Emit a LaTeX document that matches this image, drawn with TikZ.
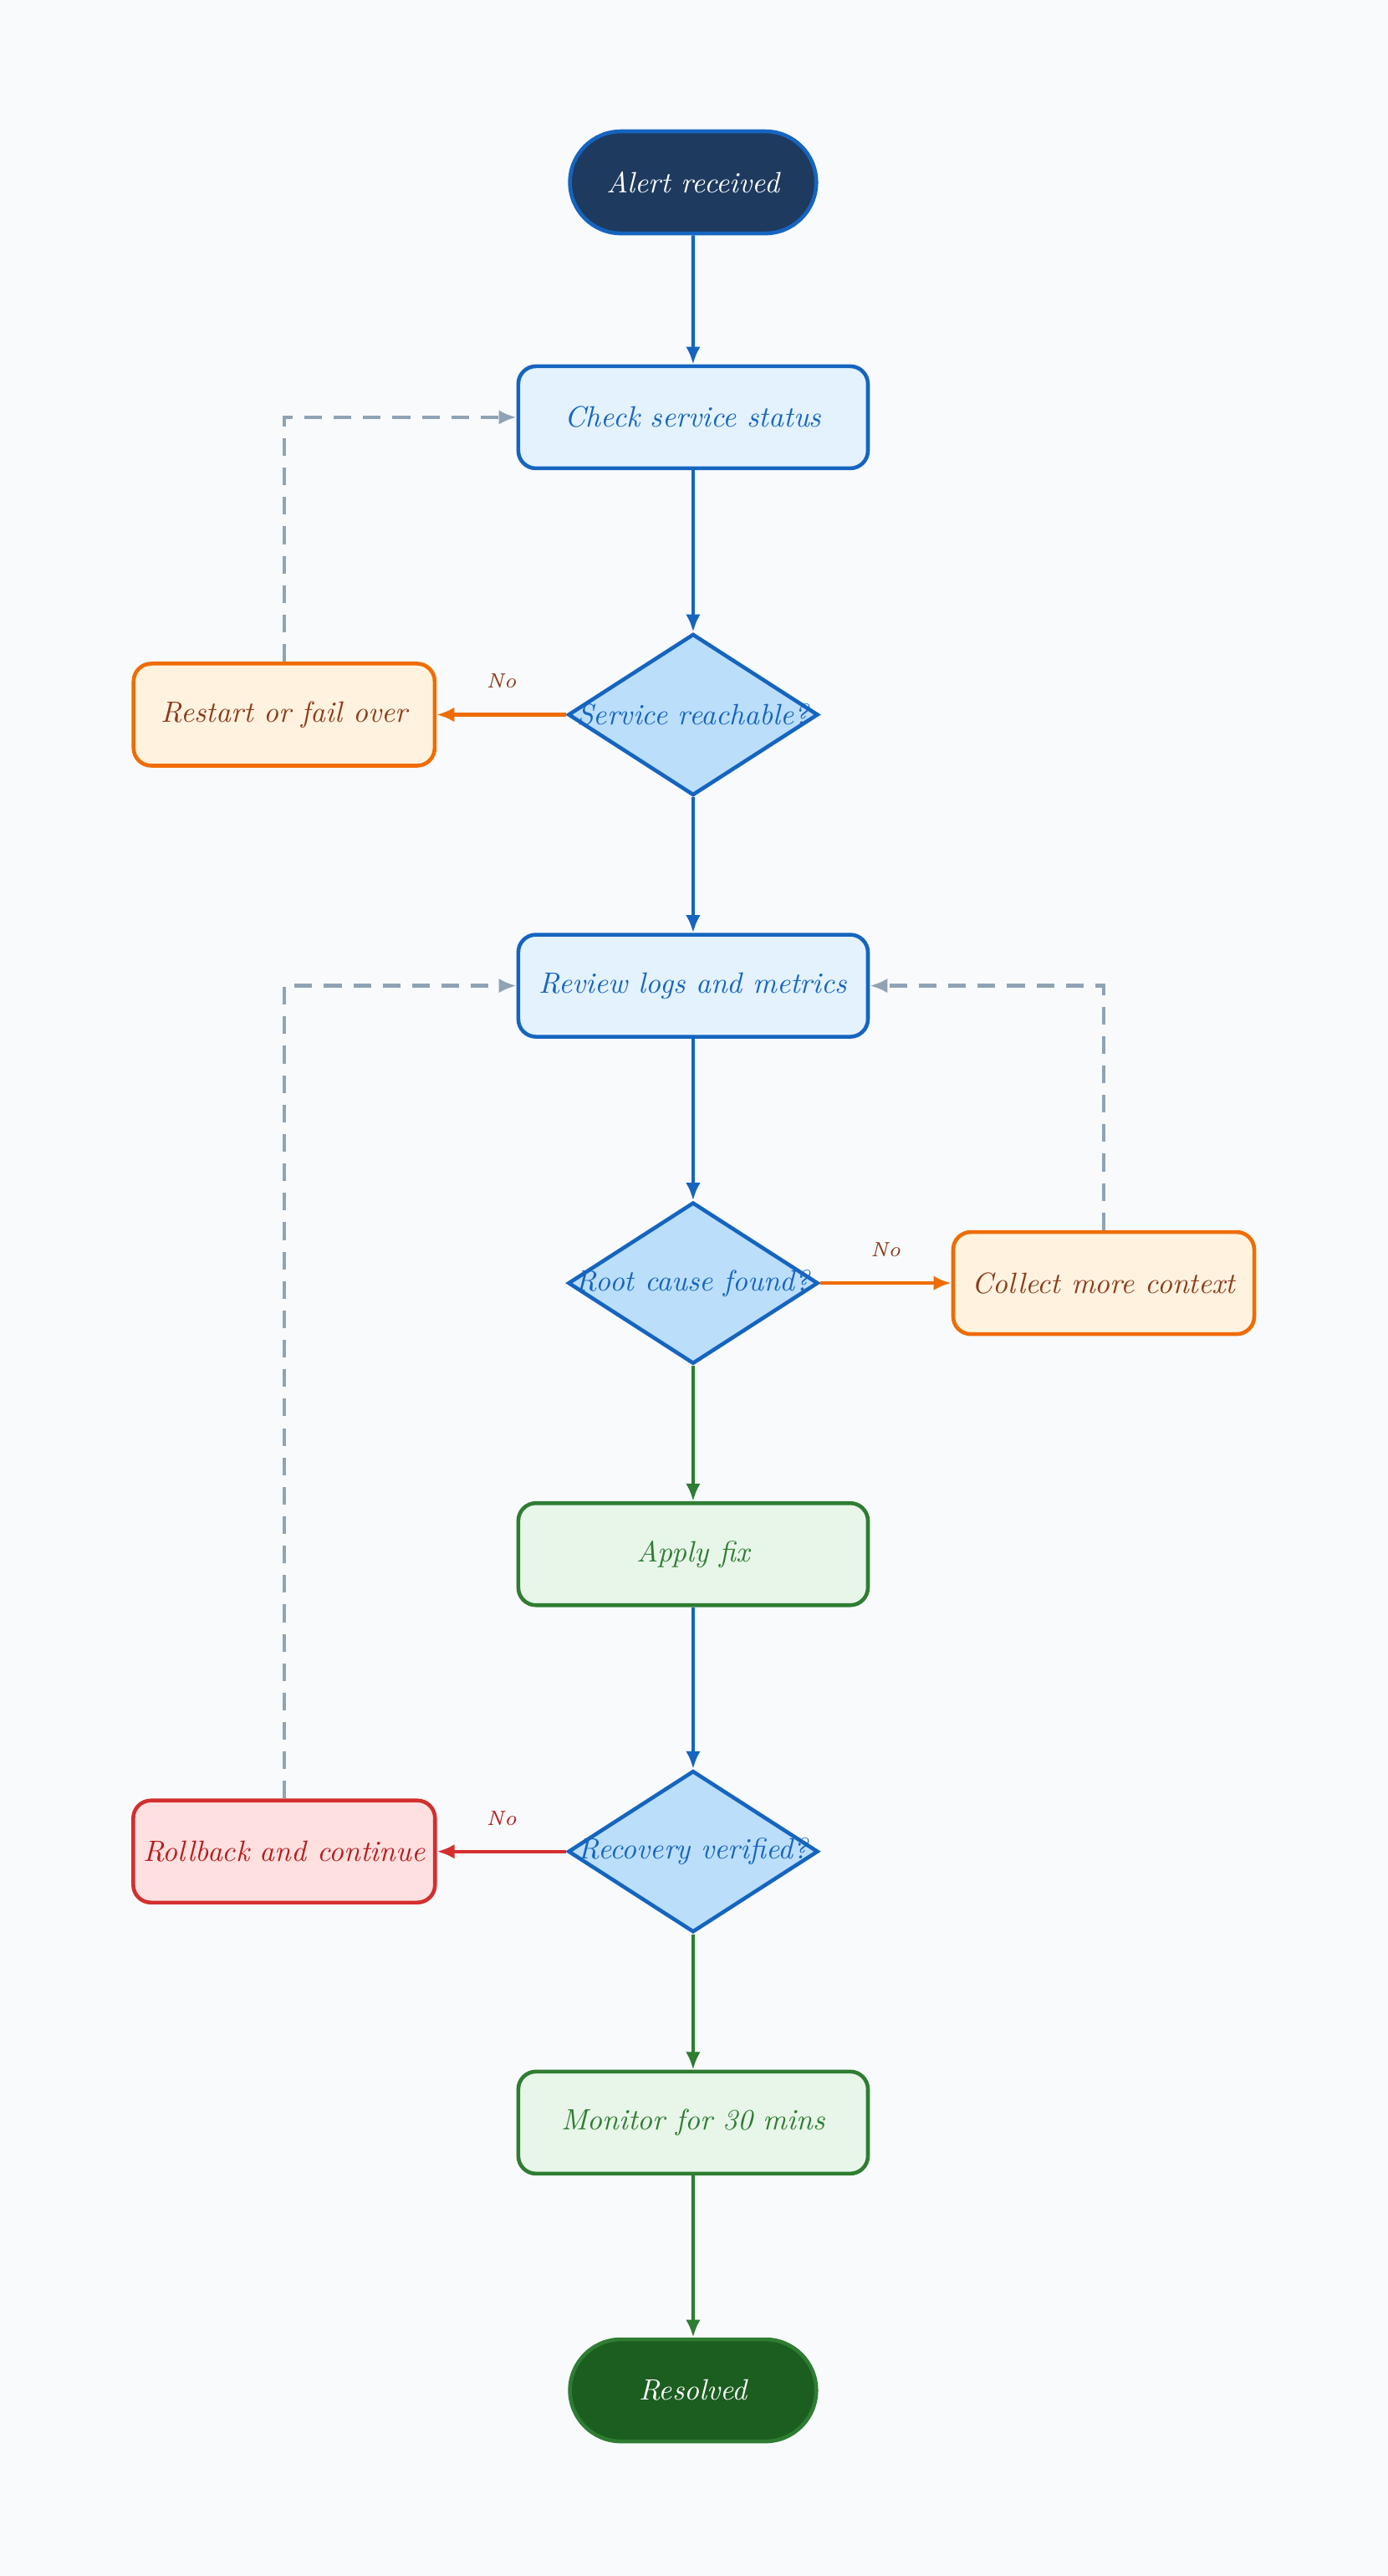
\documentclass[tikz,border=0pt]{standalone}
\usetikzlibrary{shapes.geometric,arrows.meta}
\definecolor{bg}{HTML}{F8FAFC}
\definecolor{blu}{HTML}{1565C0}
\definecolor{lblu}{HTML}{E3F2FD}
\definecolor{dblu}{HTML}{BBDEFB}
\definecolor{navy}{HTML}{1E3A5F}
\definecolor{grn}{HTML}{2E7D32}
\definecolor{lgrn}{HTML}{E8F5E9}
\definecolor{dgrn}{HTML}{1B5E20}
\definecolor{org}{HTML}{EF6C00}
\definecolor{lorg}{HTML}{FFF3E0}
\definecolor{brn}{HTML}{8D3B1A}
\definecolor{rd}{HTML}{D32F2F}
\definecolor{lrd}{HTML}{FFE0E0}
\definecolor{drd}{HTML}{B71C1C}
\definecolor{gry}{HTML}{8FA3B5}
\begin{document}
\begin{tikzpicture}[x=0.019645cm,y=-0.019645cm,
  every node/.style={font=\itshape\fontsize{10}{12}\selectfont},
  stad/.style={rounded rectangle, draw=blu, line width=1.3pt, minimum width=3.18cm, minimum height=1.22cm, text=white},
  box/.style={rectangle, rounded corners=6pt, line width=1.3pt, minimum width=4.18cm, minimum height=1.22cm},
  sbox/.style={box, minimum width=3.6cm},
  bluebox/.style={box, draw=blu, fill=lblu, text=blu},
  grnbox/.style={box, draw=grn, fill=lgrn, text=grn},
  dia/.style={diamond, draw=blu, fill=dblu, line width=1.3pt, inner sep=0pt, minimum width=2.99cm, minimum height=1.93cm},
  dtxt/.style={text=blu},
  ar/.style={-{Latex[length=6pt,width=5pt]}, line width=1.2pt},
  da/.style={ar, draw=gry, dash pattern=on 6pt off 4pt},
  no/.style={font=\itshape\fontsize{7}{8}\selectfont, text=brn}]
\usetikzlibrary{shapes.misc}
\fill[bg] (0,0) rectangle (845,1568);
\useasboundingbox (0,0) rectangle (845,1568);
\node[stad, fill=navy] (alert) at (422,111) {Alert received};
\node[bluebox] (check) at (422,254) {Check service status};
\node[dia] (d1) at (422,435) {};
\node[dtxt] at (d1) {Service reachable?};
\node[sbox, draw=org, fill=lorg, text=brn] (restart) at (173,435) {Restart or fail over};
\node[bluebox] (review) at (422,600) {Review logs and metrics};
\node[dia] (d2) at (422,781) {};
\node[dtxt] at (d2) {Root cause found?};
\node[sbox, draw=org, fill=lorg, text=brn] (collect) at (672,781) {Collect more context};
\node[grnbox] (fix) at (422,946) {Apply fix};
\node[dia] (d3) at (422,1127) {};
\node[dtxt] at (d3) {Recovery verified?};
\node[sbox, draw=rd, fill=lrd, text=drd] (roll) at (173,1127) {Rollback and continue};
\node[grnbox] (mon) at (422,1292) {Monitor for 30 mins};
\node[stad, draw=grn, fill=dgrn] (res) at (422,1455) {Resolved};

\draw[ar, blu] (alert) -- (check);
\draw[ar, blu] (check) -- (d1);
\draw[ar, blu] (d1) -- (review);
\draw[ar, blu] (review) -- (d2);
\draw[ar, blu] (fix) -- (d3);
\draw[ar, grn] (d2) -- (fix);
\draw[ar, grn] (d3) -- (mon);
\draw[ar, grn] (mon) -- (res);
\draw[ar, org] (d1) -- node[no, above=5pt, pos=0.5] {No} (restart);
\draw[ar, org] (d2) -- node[no, above=5pt, pos=0.5] {No} (collect);
\draw[ar, rd] (d3) -- node[no, above=5pt, pos=0.5, text=drd] {No} (roll);
\draw[da] (restart.north) |- (check.west);
\draw[da] (collect.north) |- (review.east);
\draw[da] (roll.north) |- (review.west);
\end{tikzpicture}
\end{document}
